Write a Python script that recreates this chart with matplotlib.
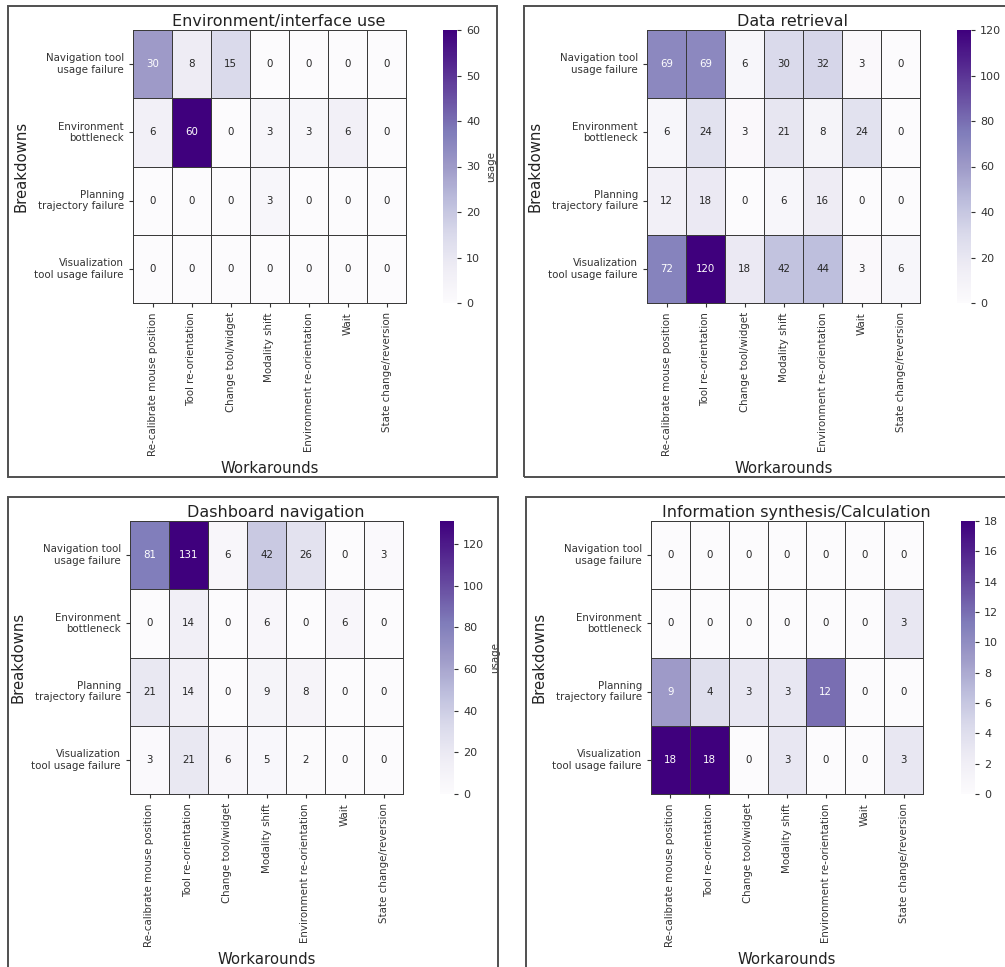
import numpy as np
import matplotlib
matplotlib.use("Agg")
import matplotlib.pyplot as plt
from matplotlib.patches import Rectangle
import seaborn as sns

breakdowns = ["Navigation tool\nusage failure", "Environment\nbottleneck",
              "Planning\ntrajectory failure", "Visualization\ntool usage failure"]
workarounds = ["Re-calibrate mouse position", "Tool re-orientation", "Change tool/widget",
               "Modality shift", "Environment re-orientation", "Wait", "State change/reversion"]

env_interface = [[30, 8, 15, 0, 0, 0, 0],
                 [6, 60, 0, 3, 3, 6, 0],
                 [0, 0, 0, 3, 0, 0, 0],
                 [0, 0, 0, 0, 0, 0, 0]]
data_retrieval = [[69, 69, 6, 30, 32, 3, 0],
                  [6, 24, 3, 21, 8, 24, 0],
                  [12, 18, 0, 6, 16, 0, 0],
                  [72, 120, 18, 42, 44, 3, 6]]
dashboard_nav = [[81, 131, 6, 42, 26, 0, 3],
                 [0, 14, 0, 6, 0, 6, 0],
                 [21, 14, 0, 9, 8, 0, 0],
                 [3, 21, 6, 5, 2, 0, 0]]
info_synthesis = [[0, 0, 0, 0, 0, 0, 0],
                  [0, 0, 0, 0, 0, 0, 3],
                  [9, 4, 3, 3, 12, 0, 0],
                  [18, 18, 0, 3, 0, 0, 3]]

titles = ["Environment/interface use", "Data retrieval",
          "Dashboard navigation", "Information synthesis/Calculation"]
matrices = [env_interface, data_retrieval, dashboard_nav, info_synthesis]

W, H = 1005, 967
fig = plt.figure(figsize=(W / 100, H / 100), dpi=100)


def box(x0, y0, x1, y1):
    """Convert a pixel box (top-left origin) to figure-fraction rect."""
    return [x0 / W, 1 - y1 / H, (x1 - x0) / W, (y1 - y0) / H]


# panel layout in pixels: heatmap box, colorbar box, frame box
panels = [
    ((133, 30, 406, 303), (443, 30, 457, 303), (8, 6, 497, 477)),
    ((647, 30, 920, 303), (957, 30, 971, 303), (524, 6, 1030, 477)),
    ((130, 521, 403, 794), (440, 521, 454, 794), (8, 497, 498, 1000)),
    ((651, 521, 923, 794), (961, 521, 975, 794), (526, 497, 1030, 1000)),
]

for (hbox, cbox, fbox), title, mat in zip(panels, titles, matrices):
    frame = Rectangle((fbox[0] / W, 1 - fbox[3] / H),
                      (fbox[2] - fbox[0]) / W, (fbox[3] - fbox[1]) / H,
                      transform=fig.transFigure, fill=False,
                      edgecolor="#505050", linewidth=1.4, zorder=0)
    fig.patches.append(frame)

    ax = fig.add_axes(box(*hbox))
    cax = fig.add_axes(box(*cbox))
    data = np.array(mat)
    sns.heatmap(data, ax=ax, cbar_ax=cax, cmap="Purples", annot=True, fmt="d",
                linewidths=0.7, linecolor="#3a3a3a",
                annot_kws={"fontsize": 7.4},
                xticklabels=workarounds, yticklabels=breakdowns,
                cbar_kws={"label": "usage"})
    # keep the outer cell borders fully visible
    ax.collections[0].set_clip_on(False)
    ax.set_title(title, fontsize=11.5, pad=3, x=0.533, color="#222222")
    ax.set_xlabel("Workarounds", fontsize=10.7, color="#222222")
    ax.set_ylabel("Breakdowns", fontsize=10.7, color="#222222")
    ax.tick_params(axis="x", labelsize=7.4, rotation=90, length=3, colors="#333333")
    ax.tick_params(axis="y", labelsize=7.4, rotation=0, length=3, colors="#333333")
    for lbl in ax.get_yticklabels():
        lbl.set_horizontalalignment("right")
    cax.tick_params(labelsize=8, length=3, colors="#333333")
    cax.yaxis.label.set_size(7.4)
    cax.yaxis.label.set_color("#333333")

fig.savefig("out.png", dpi=100)
